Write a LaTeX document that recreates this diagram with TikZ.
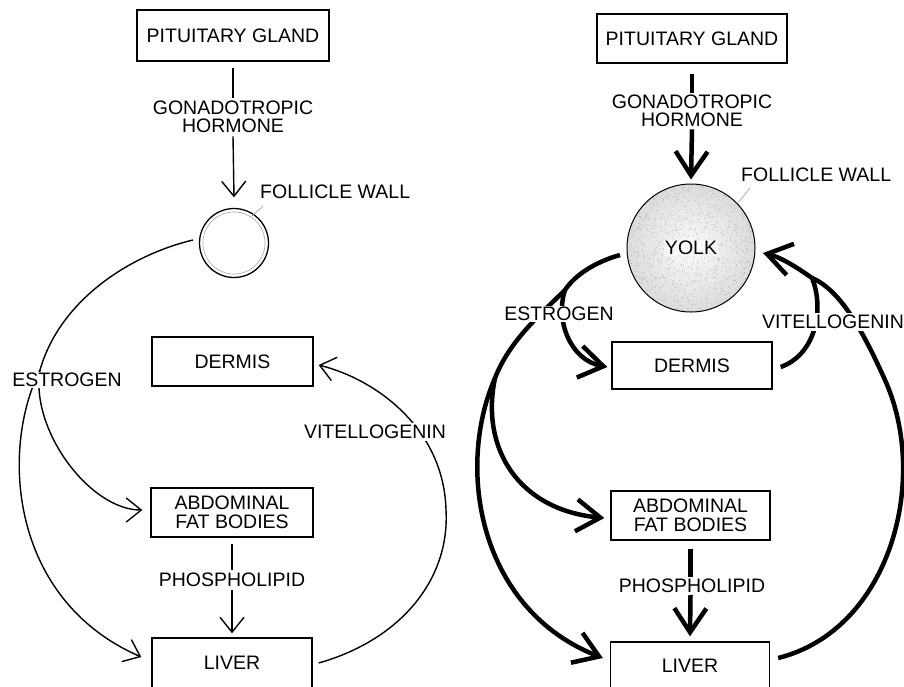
\documentclass[tikz,border=0pt]{standalone}
\usepackage{fontspec}
\setmainfont{Liberation Sans}
\usetikzlibrary{arrows.meta,calc}
\newcommand\lblfont{\fontsize{19.5}{18.5}\selectfont}
\tikzset{
  lbl/.style={font=\lblfont, inner sep=1pt, fill=white, align=center},
  box/.style={draw, line width=1.3pt, font=\lblfont, align=center, inner sep=0pt},
  thinL/.style={line width=1.4pt},
  thickR/.style={line width=4.5pt},
  tipL/.style={-{Straight Barb[length=15pt,width=24pt]}},
  tipR/.style={-{Straight Barb[length=24pt,width=32pt]}},
  leader/.style={draw=gray!70, line width=0.7pt}
}
\begin{document}
\begin{tikzpicture}[x=1pt,y=-1pt]
\useasboundingbox (0,0) rectangle (904,686);
\fill[white] (0,0) rectangle (904,686);

% ---------------- LEFT ----------------
\node[box, minimum width=192pt, minimum height=51pt] (pitL) at (233,35.5) {PITUITARY GLAND};
\node[lbl, inner sep=3pt] (gonL) at (233,117) {GONADOTROPIC\\HORMONE};
\node[circle, draw, line width=1.3pt, minimum size=69pt] (follL) at (234,243) {};
\draw[gray!70, line width=0.6pt] (follL) circle (31pt);
\node[lbl, anchor=west] (fwL) at (259,192) {FOLLICLE WALL};
\draw[leader] ($(fwL.west)+(4,14)$) -- ($(follL)+(18,-27)$);

\node[box, minimum width=161pt, minimum height=49pt] (dermL) at (232.5,361.5) {DERMIS};
\node[box, minimum width=162pt, minimum height=49pt] (abdL) at (232,512.5) {ABDOMINAL\\FAT BODIES};
\node[box, minimum width=160pt, minimum height=50pt] (livL) at (232,663) {LIVER};
\node[lbl, inner sep=3pt] (phL) at (232,580) {PHOSPHOLIPID};
\node[lbl] (estL) at (67,380) {ESTROGEN};
\node[lbl, inner sep=2pt] (vitL) at (375,432) {VITELLOGENIN};

\draw[thinL] ([yshift=-6pt]pitL.south) -- (gonL.north);
\draw[thinL, tipL] (gonL.south) -- ([yshift=10.5pt]follL.north);
\draw[thinL] ([yshift=-6pt]abdL.south) -- (phL.north);
\draw[thinL, tipL] (phL.south) -- ([yshift=4pt]livL.north);

\coordinate (sL) at (40,370);
\draw[thinL] ($(follL)+(-41,-3)$) .. controls (130,255) and (60,300) .. (sL);
\draw[thinL, tipL] (sL) .. controls (30,430) and (90,510) .. ($(abdL.west)+(-8,-2.5)$);
\draw[thinL, tipL] (sL) .. controls (0,450) and (10,600) .. ($(livL.west)+(-10,-6)$);
\draw[thinL, tipL] ($(livL.east)+(6,0)$) .. controls (400,640) and (450,580) .. (446,510)
   .. controls (444,430) and (378,380) .. ($(dermL.east)+(5,3.5)$);
\node[lbl] at (estL) {ESTROGEN};
\node[lbl, inner sep=2pt] at (vitL) {VITELLOGENIN};

% ---------------- RIGHT ----------------
\node[box, minimum width=190pt, minimum height=49pt] (pitR) at (692,38.5) {PITUITARY GLAND};
\node[lbl, inner sep=2pt] (gonR) at (692,111) {GONADOTROPIC\\HORMONE};
\node[circle, draw, line width=1pt, minimum size=128pt, inner color=gray!3, outer color=gray!28,
  font=\lblfont,
  path picture={
    \pgfmathsetseed{7}
    \foreach \i in {1,...,1300}{
      \fill[black!40] ($(path picture bounding box.center)+({64*rand},{64*rand})$) circle (0.38pt);
    }
  }] (yolk) at (691,248) {};
\node[font=\lblfont, fill=white, fill opacity=0.5, text opacity=1, inner sep=1pt] at (yolk) {YOLK};
\node[lbl, anchor=west] (fwR) at (740,175) {FOLLICLE WALL};
\draw[leader] ($(fwR.west)+(10,13)$) -- ($(yolk)+(47,-45)$);

\node[box, minimum width=160pt, minimum height=47pt] (dermR) at (692,365.5) {DERMIS};
\node[box, minimum width=159pt, minimum height=49pt] (abdR) at (690.5,515.5) {ABDOMINAL\\FAT BODIES};
\node[box, minimum width=159pt, minimum height=48pt] (livR) at (690,666) {LIVER};
\node[lbl, inner sep=2pt] (phR) at (692,586) {PHOSPHOLIPID};

\draw[thickR] ([yshift=-10pt]pitR.south) -- (gonR.north);
\draw[thickR, tipR] (gonR.south) -- ([yshift=4pt]yolk.north);
\draw[thickR] ([yshift=-8pt]abdR.south) -- (abdR.south |- phR.north);
\draw[thickR, tipR] (abdR.south |- phR.south) -- ([yshift=5pt]livR.north);

\coordinate (sR1) at (565,290);
\coordinate (sR2) at (495,378);
\coordinate (mR) at (812,278);
\draw[thickR] ($(yolk)+(-71,7)$) .. controls (595,262) and (575,275) .. (sR1);
\draw[thickR, tipR] (sR1) .. controls (555,320) and (570,360) .. ($(dermR.west)+(-4,1.5)$);
\draw[thickR] (sR1) .. controls (540,315) and (510,340) .. (sR2);
\draw[thickR, tipR] (sR2) .. controls (480,450) and (520,510) .. ($(abdR.west)+(-6,2.5)$);
\draw[thickR, tipR] (sR2) .. controls (455,470) and (480,610) .. ($(livR.west)+(-7,-8)$);

\draw[thickR] ($(livR.east)+(8,-8)$) .. controls (890,630) and (930,480) .. (885,380)
   .. controls (862,329) and (840,290) .. (mR);
\draw[thickR] ($(dermR.east)+(8,1.5)$) .. controls (815,355) and (825,310) .. (mR);
\draw[thickR, tipR] (mR) .. controls (795,266) and (780,257) .. ($(yolk)+(72,5)$);

\node[lbl] (estR) at (559,314) {ESTROGEN};
\node[lbl, inner sep=2pt] (vitR) at (833,322) {VITELLOGENIN};
\end{tikzpicture}
\end{document}
